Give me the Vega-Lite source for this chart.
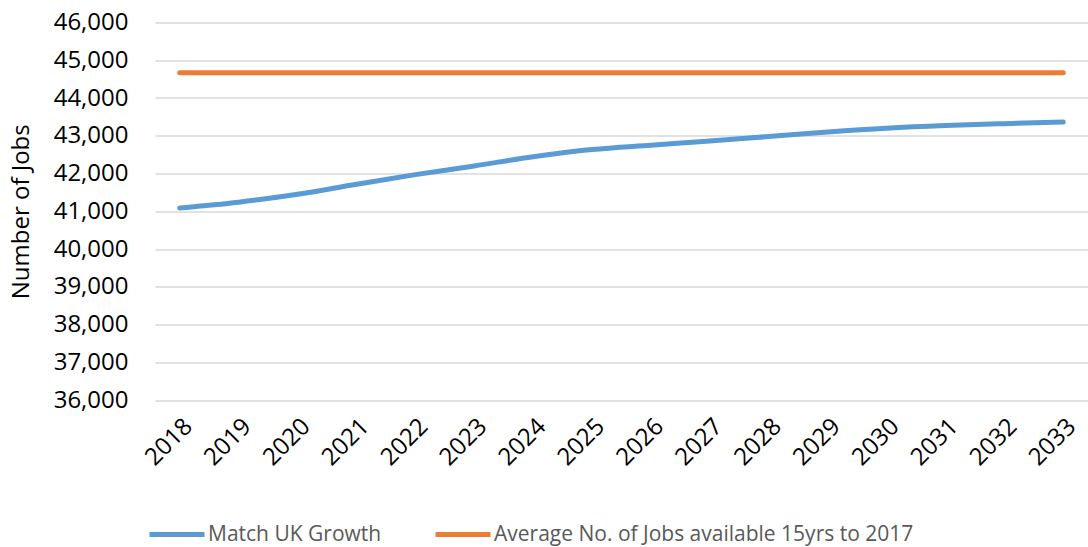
{
  "$schema": "https://vega.github.io/schema/vega-lite/v6.json",
  "autosize": "none",
  "width": 933,
  "height": 377.5,
  "padding": {"left": 155, "top": 22.5, "right": 0, "bottom": 147},
  "background": "white",
  "config": {
    "view": {"stroke": null},
    "font": "Open Sans",
    "axis": {"labelFont": "Open Sans", "titleFont": "Open Sans"},
    "legend": {
      "orient": "none",
      "legendX": -8,
      "legendY": 482,
      "direction": "horizontal"
    }
  },
  "data": {
    "values": [
      {"year": "2018", "series": "Match UK Growth", "jobs": 41087},
      {"year": "2019", "series": "Match UK Growth", "jobs": 41240},
      {"year": "2020", "series": "Match UK Growth", "jobs": 41450},
      {"year": "2021", "series": "Match UK Growth", "jobs": 41715},
      {"year": "2022", "series": "Match UK Growth", "jobs": 41970},
      {"year": "2023", "series": "Match UK Growth", "jobs": 42200},
      {"year": "2024", "series": "Match UK Growth", "jobs": 42445},
      {"year": "2025", "series": "Match UK Growth", "jobs": 42635},
      {"year": "2026", "series": "Match UK Growth", "jobs": 42750},
      {"year": "2027", "series": "Match UK Growth", "jobs": 42860},
      {"year": "2028", "series": "Match UK Growth", "jobs": 42980},
      {"year": "2029", "series": "Match UK Growth", "jobs": 43100},
      {"year": "2030", "series": "Match UK Growth", "jobs": 43200},
      {"year": "2031", "series": "Match UK Growth", "jobs": 43270},
      {"year": "2032", "series": "Match UK Growth", "jobs": 43320},
      {"year": "2033", "series": "Match UK Growth", "jobs": 43362},
      {"year": "2018", "series": "Average No. of Jobs available 15yrs to 2017", "jobs": 44672},
      {"year": "2019", "series": "Average No. of Jobs available 15yrs to 2017", "jobs": 44672},
      {"year": "2020", "series": "Average No. of Jobs available 15yrs to 2017", "jobs": 44672},
      {"year": "2021", "series": "Average No. of Jobs available 15yrs to 2017", "jobs": 44672},
      {"year": "2022", "series": "Average No. of Jobs available 15yrs to 2017", "jobs": 44672},
      {"year": "2023", "series": "Average No. of Jobs available 15yrs to 2017", "jobs": 44672},
      {"year": "2024", "series": "Average No. of Jobs available 15yrs to 2017", "jobs": 44672},
      {"year": "2025", "series": "Average No. of Jobs available 15yrs to 2017", "jobs": 44672},
      {"year": "2026", "series": "Average No. of Jobs available 15yrs to 2017", "jobs": 44672},
      {"year": "2027", "series": "Average No. of Jobs available 15yrs to 2017", "jobs": 44672},
      {"year": "2028", "series": "Average No. of Jobs available 15yrs to 2017", "jobs": 44672},
      {"year": "2029", "series": "Average No. of Jobs available 15yrs to 2017", "jobs": 44672},
      {"year": "2030", "series": "Average No. of Jobs available 15yrs to 2017", "jobs": 44672},
      {"year": "2031", "series": "Average No. of Jobs available 15yrs to 2017", "jobs": 44672},
      {"year": "2032", "series": "Average No. of Jobs available 15yrs to 2017", "jobs": 44672},
      {"year": "2033", "series": "Average No. of Jobs available 15yrs to 2017", "jobs": 44672}
    ]
  },
  "mark": {
    "type": "line",
    "strokeWidth": 5,
    "strokeCap": "round",
    "strokeJoin": "round",
    "interpolate": "monotone"
  },
  "encoding": {
    "x": {
      "field": "year",
      "type": "ordinal",
      "sort": null,
      "scale": {"type": "point", "padding": 0.42},
      "axis": {
        "title": null,
        "domain": false,
        "ticks": false,
        "labelAngle": -45,
        "labelFontSize": 24,
        "labelColor": "#000000",
        "labelPadding": 14
      }
    },
    "y": {
      "field": "jobs",
      "type": "quantitative",
      "scale": {"domain": [36000, 46000], "nice": false, "zero": false},
      "axis": {
        "title": "Number of Jobs",
        "titleFontSize": 24,
        "titleFontWeight": "normal",
        "titleColor": "#000000",
        "titlePadding": 20,
        "values": [36000, 37000, 38000, 39000, 40000, 41000, 42000, 43000, 44000, 45000, 46000],
        "format": ",.0f",
        "domain": false,
        "ticks": false,
        "labelFontSize": 24,
        "labelColor": "#000000",
        "labelPadding": 27,
        "gridColor": "#d9d9d9",
        "gridWidth": 1.5
      }
    },
    "color": {
      "field": "series",
      "type": "nominal",
      "scale": {
        "domain": ["Match UK Growth", "Average No. of Jobs available 15yrs to 2017"],
        "range": ["#5b9bd5", "#ed7d31"]
      },
      "legend": {
        "title": null,
        "symbolType": "stroke",
        "symbolSize": 3025,
        "symbolStrokeWidth": 5,
        "labelFontSize": 21,
        "labelColor": "#595959",
        "labelOffset": 1,
        "labelLimit": 600,
        "columnPadding": 43
      }
    }
  }
}
